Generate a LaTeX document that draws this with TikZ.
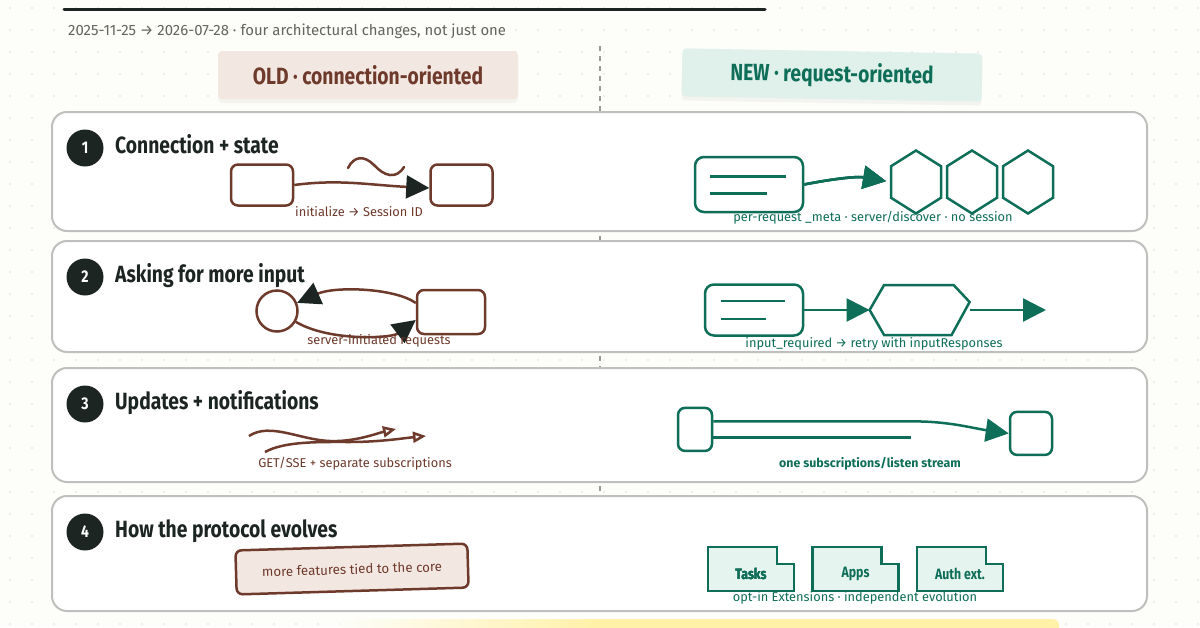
\documentclass[tikz,border=0pt]{standalone}
\usepackage{fontspec}
\setmainfont{Fira Sans}[FakeStretch=0.82]
\newfontfamily\notefont{Fira Sans}
\usetikzlibrary{arrows.meta,
                calc,
                positioning,
                shadows} % For the column heads

\definecolor{paper}{HTML}{FDFDF9}
\definecolor{dotgray}{HTML}{DEDED8}
\definecolor{rim}{HTML}{BEC0BD}
\definecolor{ink}{HTML}{1C2521}
\definecolor{subgray}{HTML}{62665F}
\definecolor{oldc}{HTML}{6E3A2C}
\definecolor{oldfill}{HTML}{F3E7E2}
\definecolor{newc}{HTML}{0F6E58}
\definecolor{newfill}{HTML}{DFF1EA}
\definecolor{tabfill}{HTML}{E5F4EF}
\definecolor{hilite}{HTML}{FFF1A8}

\newcommand{\hexoutline}[1]
{   % #1 = node that holds the cell
    \draw[newpen] (#1.north)
        -- ($(#1.north east)!0.25!(#1.south east)$)
        -- ($(#1.north east)!0.75!(#1.south east)$)
        -- (#1.south)
        -- ($(#1.north west)!0.75!(#1.south west)$)
        -- ($(#1.north west)!0.25!(#1.south west)$)
        -- cycle;
}
\newcommand{\tabfolder}[1]
{   % #1 = coordinate at the middle of the tab
    \draw[newpen, fill=tabfill, line join=miter]
        ($(#1)+(-43,-22)$) -- ++(69,0) -- ++(0,17) -- ++(17,0)
        -- ++(0,27) -- ++(-86,0) -- cycle;
}

\begin{document}
\begin{tikzpicture}[x=1pt, y=-1pt]
    \tikzset
    {
        panel/.style = {draw=rim,
                        line width=2pt,
                        rounded corners=15pt,
                        fill=white},
        numdot/.style = {circle,
                         fill=ink,
                         minimum size=37pt,
                         inner sep=0pt,
                         text=white,
                         font=\bfseries\fontsize{17}{17}\selectfont},
        heading/.style = {inner sep=0pt,
                          text=ink,
                          font=\bfseries\fontsize{23.5}{24}\selectfont},
        header/.style = {minimum width=300pt,
                         minimum height=48pt,
                         rounded corners=4pt,
                         font=\bfseries\fontsize{23.5}{24}\selectfont,
                         drop shadow={opacity=0.08, shadow xshift=0pt, shadow yshift=-4pt}},
        oldpen/.style = {draw=oldc, line width=2.5pt},
        newpen/.style = {draw=newc, line width=2.5pt},
        oldbox/.style = {oldpen,
                         rectangle,
                         rounded corners=7pt,
                         minimum width=62pt,
                         minimum height=41pt},
        oldring/.style = {oldpen, circle, minimum size=41pt, inner sep=0pt},
        oldcard/.style = {oldpen,
                          fill=oldfill,
                          rounded corners=6pt,
                          minimum width=232pt,
                          minimum height=44pt,
                          text=oldc,
                          font=\notefont\fontsize{13.3}{14}\selectfont},
        docbox/.style = {newpen,
                         rectangle,
                         rounded corners=9pt,
                         minimum width=108pt,
                         minimum height=55pt},
        cellbox/.style = {newpen, rectangle, rounded corners=7pt, minimum height=43pt},
        hexcell/.style = {inner sep=0pt, outer sep=0pt, minimum width=50pt, minimum height=63pt},
        oldnote/.style = {text=oldc, font=\notefont\fontsize{12.8}{14}\selectfont},
        newnote/.style = {text=newc, font=\notefont\fontsize{12.8}{14}\selectfont},
        tablabel/.style = {text=newc, font=\bfseries\fontsize{15}{15}\selectfont},
        inktip/.style = {arrows = -{Triangle[length=23pt, width=23pt, color=ink]}},
        newtip/.style = {arrows = -{Triangle[length=23pt, width=23pt]}},
        sketchtip/.style = {arrows = -{Triangle[open, length=13pt, width=11pt]}}
    };

    \useasboundingbox (0,0) rectangle (1200,627);

    % Paper and dot grid
    \fill[paper] (0,0) rectangle (1200,627);
    \foreach \x in {10,32,...,1200}
        \foreach \y in {8,30,...,627}
            \fill[dotgray] (\x,\y) circle (0.9pt);
    \shade[left color=paper, right color=hilite] (340,619) rectangle (600,640);
    \fill[hilite, rounded corners=6pt] (590,619) rectangle (1059,640);

    % Title rule and subtitle
    \draw[ink, line width=3pt, line cap=round] (64,9) -- (765,9);
    \node[anchor=west, inner sep=0pt, text=subgray, font=\notefont\fontsize{14.9}{15}\selectfont]
        (subtitle) at (68,31) {2025-11-25 → 2026-07-28 · four architectural changes, not just one};

    % Divider
    \draw[rim!80!black, line width=1.5pt, dash pattern=on 5pt off 5pt] (600,46) -- (600,500);

    % Column heads
    \node[header, fill=oldfill, text=oldc] (old head) at (368,75) {OLD · connection-oriented};
    \node[header, fill=newfill, text=newc, rotate=-1] (new head) at (832,75) {NEW · request-oriented};

    % Panels
    \foreach \ytop/\ybot in {112/231, 241/352, 368/482, 496/611}
        \draw[panel] (52,\ytop) rectangle (1147,\ybot);

    % Row numbers and headings
    \foreach \n/\ytop/\rowtitle in {1/112/Connection + state,
                                     2/241/Asking for more input,
                                     3/368/Updates + notifications,
                                     4/496/How the protocol evolves}
    {
        \node[numdot] (num \n) at (85,\ytop+36) {\n};
        \node[heading, anchor=base west] (head \n) at (115,\ytop+41) {\rowtitle};
    }

    % Row 1
    \node[oldbox] (old a) at (262,185) {};
    \node[oldbox] (old b) [right=135pt of old a] {};
    \draw[oldpen, inktip] (old a.east) .. controls +(45,-6) and +(-60,-3) .. ([yshift=-3pt]old b.west);
    \draw[oldpen, line cap=round] (348,168) .. controls (354,156) and (364,155) .. (374,165)
                                            .. controls (384,176) and (396,180) .. (404,167);
    \node[oldnote] (old 1 note) at (359,212) {initialize → Session ID};

    \node[docbox] (new doc 1) at (749,184.5) {};
    \draw[newpen] ([shift={(16pt,8pt)}]new doc 1.west) -- +(76,0);
    \draw[newpen] ([shift={(16pt,-9pt)}]new doc 1.west) -- +(57,0);
    \node[hexcell] (hex 1) at (916,182) {};
    \node[hexcell] (hex 2) [right=6pt of hex 1] {};
    \node[hexcell] (hex 3) [right=6pt of hex 2] {};
    \foreach \h in {1,2,3}
        \hexoutline{hex \h}
    \draw[newpen, newtip, shorten >=5pt] (new doc 1.east) .. controls +(25,-5) and +(-35,-6) .. (hex 1.west);
    \node[newnote] (new 1 note) at (873,218) {per-request \_meta · server/discover · no session};

    % Row 2
    \node[oldring] (old ring) at (277,311) {};
    \node[oldbox, minimum width=68pt, minimum height=44pt] (old c) at (451,312) {};
    \draw[oldpen, inktip] ([yshift=9pt]old c.west) .. controls (395,288) and (335,286) .. (old ring.22);
    \draw[oldpen, inktip] (old ring.-30) .. controls (330,342) and (392,338) .. ([yshift=-8pt]old c.west);
    \node[oldnote] (old 2 note) at (379,341) {server-initiated requests};

    \node[docbox, minimum width=98pt, minimum height=51pt] (new doc 2) at (754,310) {};
    \draw[newpen] ([shift={(17pt,9pt)}]new doc 2.west) -- +(64,0);
    \draw[newpen] ([shift={(17pt,-9pt)}]new doc 2.west) -- +(45,0);
    \node[inner sep=0pt, outer sep=0pt, minimum width=100pt, minimum height=50pt] (retry) at (919.6,310) {};
    \draw[newpen] ([xshift=14.5pt]retry.north west) -- ([xshift=-16pt]retry.north east)
        -- ([yshift=8pt]retry.east) -- ([xshift=-18pt]retry.south east)
        -- ([xshift=14.5pt]retry.south west) -- (retry.west) -- cycle;
    \coordinate (retry out) at (1046,310);
    \draw[newpen, newtip] (new doc 2.east) -- (retry.west);
    \draw[newpen, newtip] (retry.east) -- (retry out);
    \node[newnote] (new 2 note) at (874,344) {input\_required → retry with inputResponses};

    % Row 3
    \coordinate (wave 1 start) at (249,436);
    \coordinate (wave 1 end) at (396,429);
    \coordinate (wave 2 start) at (265,452);
    \coordinate (wave 2 end) at (426,436);
    \draw[oldpen, sketchtip] (wave 1 start) .. controls (270,422) and (300,440) .. (330,441)
                                            .. controls (355,442) and (378,433) .. (wave 1 end);
    \draw[oldpen, sketchtip] (wave 2 start) .. controls (285,441) and (320,442) .. (350,442)
                                            .. controls (380,442) and (405,438) .. (wave 2 end);
    \node[oldnote] (old 3 note) at (355,464) {GET/SSE + separate subscriptions};

    \node[cellbox, minimum width=34pt] (stream src) at (695,429.4) {};
    \node[cellbox, minimum width=42pt] (stream dst) at (1031,433.4) {};
    \draw[newpen, newtip] ([yshift=8pt]stream src.east) -- ++(201,0)
        .. controls +(35,0) and +(-35,-5) .. (stream dst.west);
    \draw[newpen] ([yshift=-8pt]stream src.east) -- ++(198,0);
    \node[newnote, font=\notefont\bfseries\fontsize{12.4}{14}\selectfont] (new 3 note) at (870,464) {one subscriptions/listen stream};

    % Row 4
    \node[oldcard, rotate=1.7] (core card) at (352,569) {more features tied to the core};

    \coordinate (tasks) at (751,569);
    \coordinate (apps) at ($(tasks)+(104.5,0)$);
    \coordinate (auth) at ($(apps)+(104.5,0)$);
    \foreach \t in {tasks, apps, auth}
        \tabfolder{\t}
    \node[tablabel] (tasks label) at ($(tasks)+(0,5)$) {Tasks};
    \node[tablabel] (apps label) at ($(apps)+(0,5)$) {Apps};
    \node[tablabel] (auth label) at ($(auth)+(0,5)$) {Auth ext.};
    \node[newnote] (new 4 note) at (855,598) {opt-in Extensions · independent evolution};

\end{tikzpicture}
\end{document}
